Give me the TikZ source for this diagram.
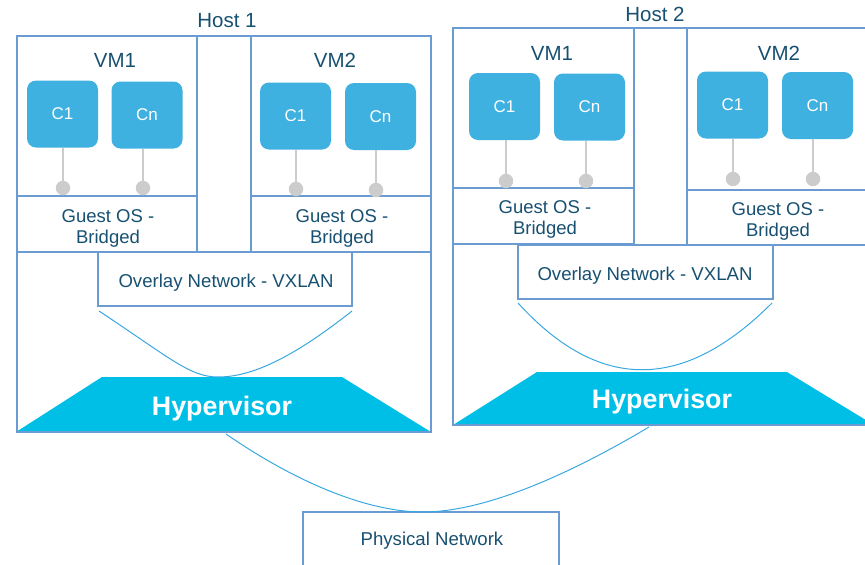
\documentclass[tikz,border=0pt]{standalone}
\usepackage{fontspec}
\setmainfont{Liberation Sans}
\usetikzlibrary{fit}
\definecolor{frame}{RGB}{106,155,209}
\definecolor{ink}{RGB}{23,80,112}
\definecolor{ctr}{RGB}{62,177,224}
\definecolor{hyp}{RGB}{0,191,231}
\definecolor{link}{RGB}{58,168,224}
\definecolor{port}{RGB}{204,204,204}
\tikzset{
  box/.style={draw=frame, line width=2.4pt, inner sep=0pt},
  title/.style={text=ink, font=\fontsize{20.5}{24}\selectfont, inner sep=0pt},
  guest/.style={text=ink, font=\fontsize{18.5}{21}\selectfont, align=center, inner sep=0pt},
  netlabel/.style={text=ink, font=\fontsize{18.6}{22}\selectfont, inner sep=0pt},
  ctrbox/.style={fill=ctr, rounded corners=9pt, minimum width=71pt, minimum height=67pt,
    text=white, font=\fontsize{17}{20}\selectfont, inner sep=0pt},
  portdot/.style={circle, fill=port, minimum size=14.5pt, inner sep=0pt},
  portline/.style={draw=port, line width=2pt},
  hypbody/.style={fill=hyp},
  hyplabel/.style={text=white, font=\bfseries\fontsize{26.8}{30}\selectfont, inner sep=0pt},
  wire/.style={draw=link, line width=1pt},
}
\begin{document}
\begin{tikzpicture}[x=1pt, y=-1pt]
\useasboundingbox (0,0) rectangle (865,565);
\clip (0,0) rectangle (865,565);

% ---------- Host 1 ----------
\fill[hypbody] (102,377) -- (342,377) -- (431,432) -- (16,432) -- cycle;
\node[box, fit={(17,36) (431,432)}] (host1) {};
\node[box, fit={(17,36) (197,196)}] (h1vm1) {};
\node[box, fit={(17,196) (197,252)}] (h1os1) {};
\node[box, fit={(197,36) (251,252)}] (h1gap) {};
\node[box, fit={(251,36) (431,196)}] (h1vm2) {};
\node[box, fit={(251,196) (431,252)}] (h1os2) {};
\node[box, fit={(98,252) (352,306)}] (h1ovl) {};

\node[title] (h1title) at (227,21) {Host 1};
\node[title] (h1vm1t) at (115,60) {VM1};
\node[title] (h1vm2t) at (335,60) {VM2};
\node[guest] (h1os1t) at (108,228) {Guest OS -\\Bridged};
\node[guest] (h1os2t) at (342,228) {Guest OS -\\Bridged};
\node[netlabel] (h1ovlt) at (226,283) {Overlay Network - VXLAN};
\node[hyplabel] (hyp1) at (222,409) {Hypervisor};

\node[ctrbox] (h1a) at (62.5,114) {C1};
\node[ctrbox] (h1b) at (147,115) {Cn};
\node[ctrbox] (h1c) at (295.5,116) {C1};
\node[ctrbox] (h1d) at (380.5,116.5) {Cn};
\node[portdot] (p1a) at (63,188) {};
\node[portdot] (p1b) at (143,188) {};
\node[portdot] (p1c) at (296,189) {};
\node[portdot] (p1d) at (376,190) {};
\foreach \c/\p in {h1a/p1a, h1b/p1b, h1c/p1c, h1d/p1d}
  \draw[portline] (\c.south -| \p) -- (\p);

% ---------- Host 2 ----------
\fill[hypbody] (537,372) -- (787,372) -- (874,425) -- (453,425) -- cycle;
\node[box, fit={(453,28) (885,425)}] (host2) {};
\node[box, fit={(453,28) (634,188)}] (h2vm1) {};
\node[box, fit={(453,188) (634,244)}] (h2os1) {};
\node[box, fit={(634,28) (687,245)}] (h2gap) {};
\node[box, fit={(687,28) (885,190)}] (h2vm2) {};
\node[box, fit={(687,190) (885,245)}] (h2os2) {};
\node[box, fit={(518,245) (773,299)}] (h2ovl) {};

\node[title] (h2title) at (655,14) {Host 2};
\node[title] (h2vm1t) at (552,53) {VM1};
\node[title] (h2vm2t) at (779,53) {VM2};
\node[guest] (h2os1t) at (545,219) {Guest OS -\\Bridged};
\node[guest] (h2os2t) at (778,221) {Guest OS -\\Bridged};
\node[netlabel] (h2ovlt) at (645,276) {Overlay Network - VXLAN};
\node[hyplabel] (hyp2) at (662,402) {Hypervisor};

\node[ctrbox] (h2a) at (504.5,106.5) {C1};
\node[ctrbox] (h2b) at (589.5,107) {Cn};
\node[ctrbox] (h2c) at (732.5,105) {C1};
\node[ctrbox] (h2d) at (817.5,105.5) {Cn};
\node[portdot] (p2a) at (506,181) {};
\node[portdot] (p2b) at (586,181) {};
\node[portdot] (p2c) at (733,179) {};
\node[portdot] (p2d) at (813,179) {};
\foreach \c/\p in {h2a/p2a, h2b/p2b, h2c/p2c, h2d/p2d}
  \draw[portline] (\c.south -| \p) -- (\p);

% ---------- Physical network ----------
\node[box, fit={(303,512) (559,580)}] (phys) {};
\node[netlabel] (physt) at (432,541) {Physical Network};

% ---------- Links ----------
\coordinate (ov1l) at (99,311);
\coordinate (ov1r) at (352,311);
\coordinate (hv1top) at (218,377);
\coordinate (ov2l) at (518,303);
\coordinate (ov2r) at (772,303);
\coordinate (hv1bot) at (226,434);
\coordinate (hv2bot) at (649,427);
\coordinate (phystop) at (423,512);

\draw[wire] (ov1l) .. controls (170,358) and (190,377) .. (hv1top)
                   .. controls (250,377) and (290,360) .. (ov1r);
\draw[wire] (ov2l) .. controls (599,392) and (683,392) .. (ov2r);
\draw[wire] (hv1bot) .. controls (300,485) and (370,512) .. (phystop)
                     .. controls (480,512) and (560,480) .. (hv2bot);
\end{tikzpicture}
\end{document}
